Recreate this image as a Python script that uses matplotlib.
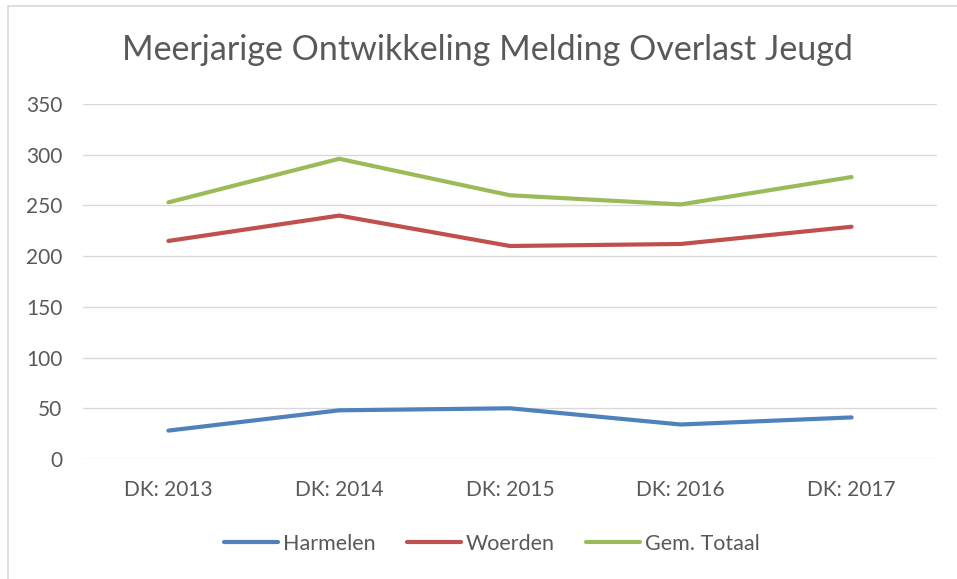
import matplotlib
matplotlib.use('Agg')
from matplotlib import pyplot as plt
from matplotlib.patches import Rectangle

# Data
categories = ['DK: 2013', 'DK: 2014', 'DK: 2015', 'DK: 2016', 'DK: 2017']
harmelen = [28, 48, 50, 34, 41]
woerden = [215, 240, 210, 212, 229]
totaal = [253, 296, 260, 251, 278]
series_names = ['Harmelen', 'Woerden', 'Gem. Totaal']
y_ticks = [0, 50, 100, 150, 200, 250, 300, 350]

plt.rcParams['font.family'] = ['Lato', 'DejaVu Sans']
text_color = '#595959'

fig = plt.figure(figsize=(9.57, 5.79), dpi=100)
ax = fig.add_axes([83 / 957, 1 - 459 / 579, (937 - 83) / 957, (459 - 104) / 579])

# Rahmen um das Diagramm
fig.patches.append(Rectangle((8 / 957, -0.05), 1.0, 1 - 6 / 579 + 0.05,
                             transform=fig.transFigure, fill=False,
                             edgecolor='#D9D9D9', linewidth=1.2))

x = range(len(categories))
ax.plot(x, harmelen, color='#4F81BD', linewidth=3, label=series_names[0], solid_capstyle='round')
ax.plot(x, woerden, color='#C0504D', linewidth=3, label=series_names[1], solid_capstyle='round')
ax.plot(x, totaal, color='#9BBB59', linewidth=3, label=series_names[2], solid_capstyle='round')

ax.set_xlim(-0.5, len(categories) - 0.5)
ax.set_ylim(0, 350)
ax.set_yticks(y_ticks)
ax.set_xticks(list(x))
ax.set_xticklabels(categories)
ax.grid(axis='y', color='#D9D9D9', linewidth=1)
ax.set_axisbelow(True)
for s in ax.spines.values():
    s.set_visible(False)
ax.tick_params(axis='both', length=0, labelsize=15, colors=text_color)
ax.tick_params(axis='y', pad=15)
ax.tick_params(axis='x', pad=15)

fig.text(487 / 957, 1 - 50 / 579, 'Meerjarige Ontwikkeling Melding Overlast Jeugd',
         ha='center', va='center', fontsize=24.5, color=text_color)

ax.legend(loc='center', bbox_to_anchor=(492 / 957, 1 - 544 / 579), bbox_transform=fig.transFigure,
          ncol=3, frameon=False, fontsize=15.5, labelcolor=text_color, handlelength=2.5,
          handletextpad=0.25, columnspacing=1.45)

plt.savefig('out.png', dpi=100)
